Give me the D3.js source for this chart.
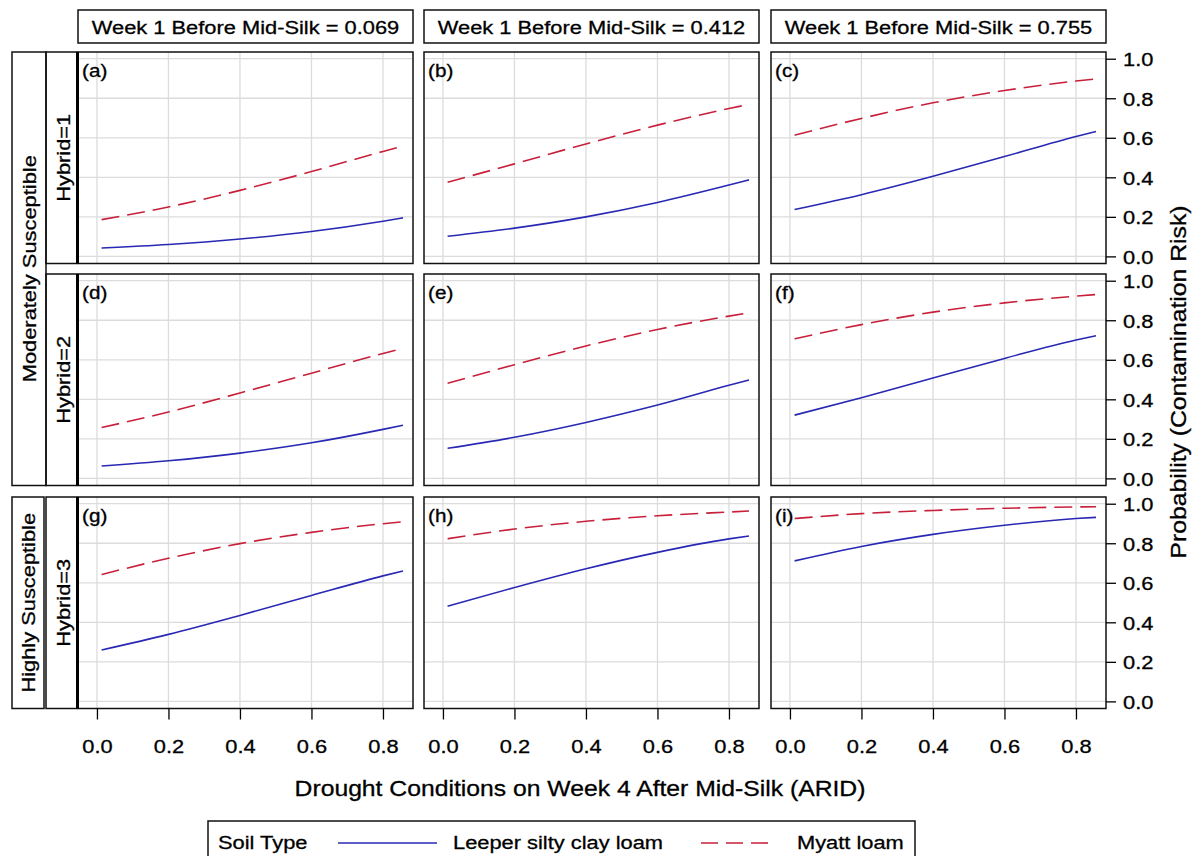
<!DOCTYPE html>
<html>
<head>
<meta charset="utf-8">
<script src="https://cdn.jsdelivr.net/npm/d3@7"></script>
<style>
  html, body { margin: 0; padding: 0; background: #fff; }
  svg { display: block; font-family: "Liberation Sans", Arial, sans-serif; }
  svg text { stroke: #000; stroke-width: 0.3px; }
</style>
</head>
<body>
<script>
const aridX = [0.013, 0.2, 0.4, 0.6, 0.8, 0.856];

const weekValues = ["0.069", "0.412", "0.755"];
const hybrids = ["Hybrid=1", "Hybrid=2", "Hybrid=3"];
const susceptibility = ["Moderately Susceptible", "Highly Susceptible"];
const panelTags = ["(a)", "(b)", "(c)", "(d)", "(e)", "(f)", "(g)", "(h)", "(i)"];
const xTicks = [0, 0.2, 0.4, 0.6, 0.8];
const yTicks = [0, 0.2, 0.4, 0.6, 0.8, 1.0];
const soilTypes = ["Leeper silty clay loam", "Myatt loam"];

// probability per panel (a..i), Leeper silty clay loam
const leeper = [
  [0.042, 0.060, 0.088, 0.126, 0.178, 0.195],
  [0.102, 0.143, 0.200, 0.273, 0.361, 0.387],
  [0.237, 0.312, 0.405, 0.505, 0.606, 0.632],
  [0.063, 0.089, 0.128, 0.180, 0.248, 0.269],
  [0.152, 0.208, 0.283, 0.371, 0.471, 0.498],
  [0.320, 0.408, 0.508, 0.607, 0.700, 0.722],
  [0.260, 0.339, 0.435, 0.536, 0.635, 0.660],
  [0.482, 0.576, 0.671, 0.754, 0.822, 0.837],
  [0.711, 0.784, 0.845, 0.891, 0.925, 0.931]
];
// probability per panel (a..i), Myatt loam
const myatt = [
  [0.186, 0.250, 0.334, 0.429, 0.531, 0.558],
  [0.375, 0.468, 0.569, 0.664, 0.748, 0.769],
  [0.613, 0.698, 0.777, 0.839, 0.887, 0.898],
  [0.257, 0.336, 0.432, 0.532, 0.632, 0.657],
  [0.481, 0.575, 0.670, 0.753, 0.821, 0.837],
  [0.706, 0.778, 0.841, 0.888, 0.922, 0.930],
  [0.642, 0.724, 0.798, 0.855, 0.899, 0.909],
  [0.823, 0.872, 0.911, 0.939, 0.958, 0.963],
  [0.925, 0.950, 0.966, 0.977, 0.984, 0.985]
];

const W = 1194, H = 856;
const SX = 1.15; // the original font runs wider than Arial
const blue = "#2828b4", red = "#c8203a";
const colLeft = [78, 424, 771];
const rowTop = [52, 274, 497];
const panelW = 335, panelH = 211.5;

const svg = d3.select("body").append("svg").attr("width", W).attr("height", H);

const x = d3.scaleLinear().domain([-0.053, 0.884]).range([0, panelW]);
const y = d3.scaleLinear().domain([-0.036, 1.034]).range([panelH, 0]);

function label(g, str, px, py, size, anchor, rot, dy) {
  const t = g.append("text").text(str)
    .attr("transform", "translate(" + px + "," + py + ") rotate(" + (rot || 0) + ") scale(" + SX + ",1)")
    .attr("font-size", size)
    .attr("text-anchor", anchor || "start")
    .attr("fill", "#000");
  if (dy) t.attr("dy", dy);
  return t;
}

// column headers
weekValues.forEach(function(v, c) {
  svg.append("rect").attr("x", colLeft[c]).attr("y", 10).attr("width", panelW).attr("height", 33)
    .attr("fill", "none").attr("stroke", "#111").attr("stroke-width", 1.5);
  label(svg, "Week 1 Before Mid-Silk = " + v, colLeft[c] + panelW / 2, 34, 19, "middle");
});

// row header boxes
svg.append("rect").attr("x", 12).attr("y", rowTop[0]).attr("width", 34)
  .attr("height", rowTop[1] + panelH - rowTop[0])
  .attr("fill", "none").attr("stroke", "#111").attr("stroke-width", 1.5);
label(svg, susceptibility[0], 29, (rowTop[0] + rowTop[1] + panelH) / 2, 19, "middle", -90, "0.35em");
svg.append("rect").attr("x", 12).attr("y", rowTop[2]).attr("width", 32).attr("height", panelH)
  .attr("fill", "none").attr("stroke", "#111").attr("stroke-width", 1.5);
label(svg, susceptibility[1], 28, rowTop[2] + panelH / 2, 19, "middle", -90, "0.35em");

hybrids.forEach(function(h, r) {
  svg.append("rect").attr("x", 46).attr("y", rowTop[r]).attr("width", 31).attr("height", panelH)
    .attr("fill", "none").attr("stroke", "#111").attr("stroke-width", 1.5);
  label(svg, h, 63, rowTop[r] + panelH / 2, 19, "middle", -90, "0.35em");
});

const line = d3.line()
  .x(function(d) { return x(d[0]); })
  .y(function(d) { return y(d[1]); })
  .curve(d3.curveMonotoneX);

// panels
for (let r = 0; r < 3; r++) {
  for (let c = 0; c < 3; c++) {
    const i = r * 3 + c;
    const g = svg.append("g").attr("transform", "translate(" + colLeft[c] + "," + rowTop[r] + ")");

    g.selectAll(".vg").data(xTicks).enter().append("line")
      .attr("x1", function(d) { return x(d); }).attr("x2", function(d) { return x(d); })
      .attr("y1", 0).attr("y2", panelH)
      .attr("stroke", "#dcdcdc").attr("stroke-width", 1.3);
    g.selectAll(".hg").data(yTicks).enter().append("line")
      .attr("x1", 0).attr("x2", panelW)
      .attr("y1", function(d) { return y(d); }).attr("y2", function(d) { return y(d); })
      .attr("stroke", "#dcdcdc").attr("stroke-width", 1.3);

    g.append("path").datum(aridX.map(function(v, k) { return [v, leeper[i][k]]; }))
      .attr("d", line).attr("fill", "none").attr("stroke", blue).attr("stroke-width", 1.6);
    g.append("path").datum(aridX.map(function(v, k) { return [v, myatt[i][k]]; }))
      .attr("d", line).attr("fill", "none").attr("stroke", red).attr("stroke-width", 1.6)
      .attr("stroke-dasharray", "18,8");

    g.append("rect").attr("width", panelW).attr("height", panelH)
      .attr("fill", "none").attr("stroke", "#111").attr("stroke-width", 1.5);
    if (c === 0) {
      g.append("line").attr("x1", -0.5).attr("x2", -0.5).attr("y1", 0).attr("y2", panelH)
        .attr("stroke", "#000").attr("stroke-width", 3);
    }
    label(g, panelTags[i], 4, 25, 18, "start");

    // right-hand probability axis on the last column
    if (c === 2) {
      const ax = g.append("g").attr("transform", "translate(" + panelW + ",0)")
        .call(d3.axisRight(y).tickValues(yTicks).tickSize(10).tickFormat(d3.format(".1f")));
      ax.select(".domain").remove();
      ax.selectAll(".tick line").attr("stroke", "#000").attr("stroke-width", 1.3);
      ax.selectAll(".tick text").attr("x", null).attr("dy", null)
        .attr("transform", "translate(17,7) scale(" + SX + ",1)")
        .attr("font-size", 19).attr("font-family", null).attr("fill", "#000");
    }
    // ARID axis under the last row
    if (r === 2) {
      const ax = g.append("g").attr("transform", "translate(0," + panelH + ")")
        .call(d3.axisBottom(x).tickValues(xTicks).tickSize(11).tickFormat(d3.format(".1f")));
      ax.select(".domain").remove();
      ax.selectAll(".tick line").attr("stroke", "#000").attr("stroke-width", 1.3);
      ax.selectAll(".tick text").attr("y", null).attr("dy", null)
        .attr("transform", "translate(0,44) scale(" + SX + ",1)")
        .attr("font-size", 19).attr("font-family", null).attr("fill", "#000");
    }
  }
}

// axis titles
label(svg, "Drought Conditions on Week 4 After Mid-Silk (ARID)", 580, 796, 21.5, "middle");
label(svg, "Probability (Contamination Risk)", 1178, 382, 21.5, "middle", -90, "0.35em");

// legend
const leg = svg.append("g");
leg.append("rect").attr("x", 208).attr("y", 821).attr("width", 707).attr("height", 60)
  .attr("fill", "none").attr("stroke", "#111").attr("stroke-width", 1.5);
label(leg, "Soil Type", 218, 849, 19, "start");
leg.append("line").attr("x1", 338).attr("x2", 437).attr("y1", 843).attr("y2", 843)
  .attr("stroke", blue).attr("stroke-width", 1.6);
label(leg, soilTypes[0], 453, 849, 19, "start");
leg.append("line").attr("x1", 701).attr("x2", 775).attr("y1", 843).attr("y2", 843)
  .attr("stroke", red).attr("stroke-width", 1.6).attr("stroke-dasharray", "17,8");
label(leg, soilTypes[1], 797, 849, 19, "start");
</script>
</body>
</html>
